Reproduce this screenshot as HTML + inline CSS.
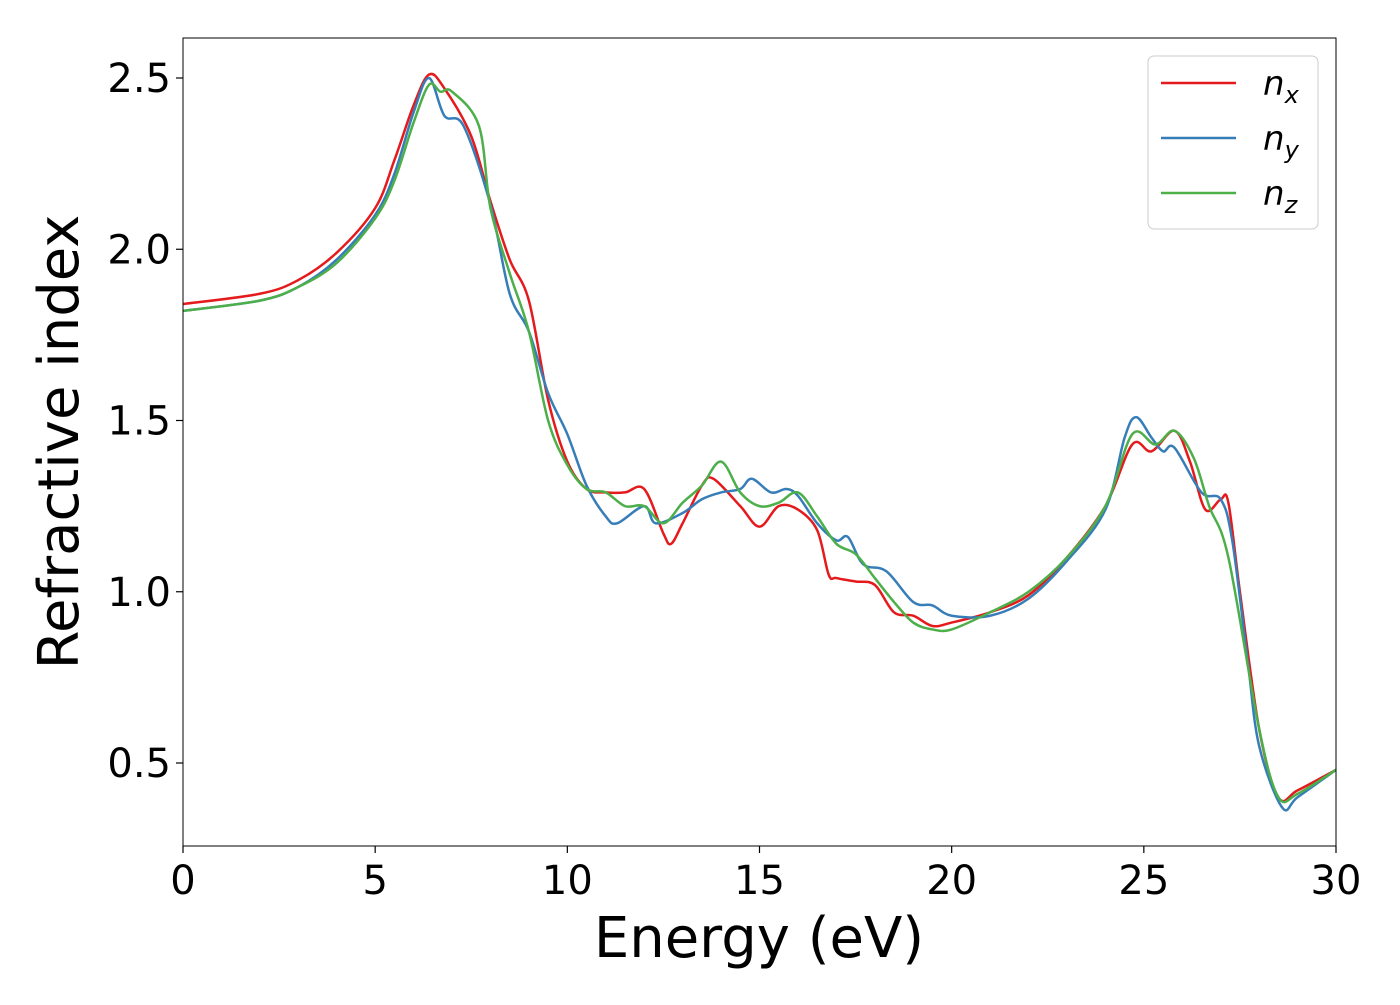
<!DOCTYPE html>
<html><head><meta charset="utf-8"><style>
body{margin:0;background:#fff;}
text{font-family:"DejaVu Sans","Liberation Sans",sans-serif;}
</style></head><body>
<svg id="chart" width="1400" height="1000" xmlns="http://www.w3.org/2000/svg"></svg>
<script>
const xTicks=[0,5,10,15,20,25,30];
const yTicks=[0.5,1.0,1.5,2.0,2.5];
const seriesNames=["x","y","z"];
const seriesColors=["#e41a1c","#377eb8","#4daf4a"];
const nxE=[0,2,3,4,5,5.5,6,6.4,6.8,7.5,8,8.5,9,9.5,10,10.5,11,11.5,12,12.5,12.7,13,13.5,13.8,14.5,15,15.5,16,16.5,16.8,17,17.5,18,18.5,19,19.5,20,21,22,23,24,24.7,25.2,25.8,26.2,26.6,27,27.2,27.5,28,28.5,29,30];
const nxV=[1.84,1.87,1.91,1.99,2.12,2.26,2.42,2.51,2.47,2.33,2.14,1.97,1.85,1.56,1.38,1.30,1.29,1.29,1.30,1.17,1.14,1.20,1.31,1.33,1.25,1.19,1.25,1.24,1.18,1.05,1.04,1.03,1.02,0.94,0.93,0.90,0.91,0.94,0.99,1.10,1.25,1.43,1.41,1.47,1.38,1.24,1.27,1.26,1.0,0.6,0.40,0.42,0.48];
const nyE=[0,2,3,4,5,5.5,6,6.4,6.8,7.3,8,8.5,9,9.5,10,10.5,11,11.3,12,12.3,13,13.5,14,14.5,14.8,15.3,15.7,16,16.5,17,17.3,17.7,18.3,19,19.5,20,21,22,23,24,24.5,24.8,25.2,25.5,25.8,26.5,27,27.3,27.7,28,28.6,29,30];
const nyV=[1.82,1.85,1.89,1.97,2.10,2.22,2.40,2.50,2.39,2.36,2.13,1.87,1.76,1.58,1.46,1.31,1.22,1.20,1.25,1.20,1.23,1.27,1.29,1.30,1.33,1.29,1.30,1.28,1.20,1.15,1.16,1.08,1.06,0.97,0.96,0.93,0.93,0.98,1.09,1.24,1.45,1.51,1.45,1.41,1.42,1.29,1.27,1.15,0.8,0.55,0.37,0.40,0.48];
const nzE=[0,2,3,4,5,5.5,6,6.4,6.7,7,7.7,8,8.5,9,9.5,10,10.5,11,11.5,12,12.5,13,13.5,14,14.5,15,15.5,16,16.5,17,17.5,18,18.5,19,19.5,20,21,22,23,24,24.7,25.3,25.8,26.3,26.7,27.2,28,28.5,29,30];
const nzV=[1.82,1.85,1.89,1.96,2.09,2.20,2.37,2.48,2.46,2.46,2.36,2.12,1.93,1.76,1.50,1.37,1.30,1.29,1.25,1.25,1.20,1.26,1.31,1.38,1.29,1.25,1.26,1.29,1.22,1.14,1.11,1.04,0.97,0.91,0.89,0.89,0.94,1.00,1.10,1.25,1.46,1.43,1.47,1.39,1.25,1.10,0.60,0.40,0.41,0.48];
const L=183,R=1336,T=38,B=846;
const xs=v=>L+(v-0)/30*(R-L);
const ys=v=>78+(2.5-v)*342.5;
const svg=document.getElementById('chart');
const NS="http://www.w3.org/2000/svg";
function mk(t,a){const e=document.createElementNS(NS,t);for(const k in a)e.setAttribute(k,a[k]);svg.appendChild(e);return e;}
function path(E,V){const p=E.map((e,i)=>[xs(e),ys(V[i])]);let d=`M${p[0][0]},${p[0][1]}`;
for(let i=0;i<p.length-1;i++){const p0=p[Math.max(0,i-1)],p1=p[i],p2=p[i+1],p3=p[Math.min(p.length-1,i+2)];
const c1=[p1[0]+(p2[0]-p0[0])/6,p1[1]+(p2[1]-p0[1])/6],c2=[p2[0]-(p3[0]-p1[0])/6,p2[1]-(p3[1]-p1[1])/6];
d+=` C${c1[0]},${c1[1]} ${c2[0]},${c2[1]} ${p2[0]},${p2[1]}`;}return d;}
const data=[[nxE,nxV],[nyE,nyV],[nzE,nzV]];
const clip=mk('clipPath',{id:'cp'});const cr=document.createElementNS(NS,'rect');cr.setAttribute('x',L);cr.setAttribute('y',T);cr.setAttribute('width',R-L);cr.setAttribute('height',B-T);clip.appendChild(cr);
data.forEach((d,i)=>{const p=mk('path',{d:path(d[0],d[1]),fill:'none',stroke:seriesColors[i],'stroke-width':2.5,'clip-path':'url(#cp)'});
});
const fr=mk('rect',{x:L,y:T,width:R-L,height:B-T,fill:'none',stroke:'#000','stroke-width':1});

xTicks.forEach(t=>{mk('line',{x1:xs(t),x2:xs(t),y1:B,y2:B+7,stroke:'#000','stroke-width':1.2});
const tx=mk('text',{x:xs(t),y:B+48,'font-size':40,'text-anchor':'middle'});tx.textContent=t;
});
yTicks.forEach(t=>{mk('line',{x1:L-7,x2:L,y1:ys(t),y2:ys(t),stroke:'#000','stroke-width':1.2});
const tx=mk('text',{x:L-12,y:ys(t)+14,'font-size':40,'text-anchor':'end'});tx.textContent=t.toFixed(1);
});
const xl=mk('text',{x:759,y:957,'font-size':56,'text-anchor':'middle'});xl.textContent='Energy (eV)';

const yl=mk('text',{x:78,y:442,'font-size':56,'text-anchor':'middle',transform:'rotate(-90 78 442)'});yl.textContent='Refractive index';

const lg=mk('rect',{x:1148,y:56,width:170,height:173,rx:6,fill:'#fff',stroke:'#ccc','stroke-width':1});

seriesNames.forEach((n,i)=>{const y=83+i*55;
mk('line',{x1:1161,x2:1236,y1:y,y2:y,stroke:seriesColors[i],'stroke-width':2.5});
const t=mk('text',{x:1263,y:y+12,'font-size':34,'font-style':'italic'});
t.innerHTML='n<tspan font-size="24" dy="8">'+n+'</tspan>';
});
</script>
</body></html>
